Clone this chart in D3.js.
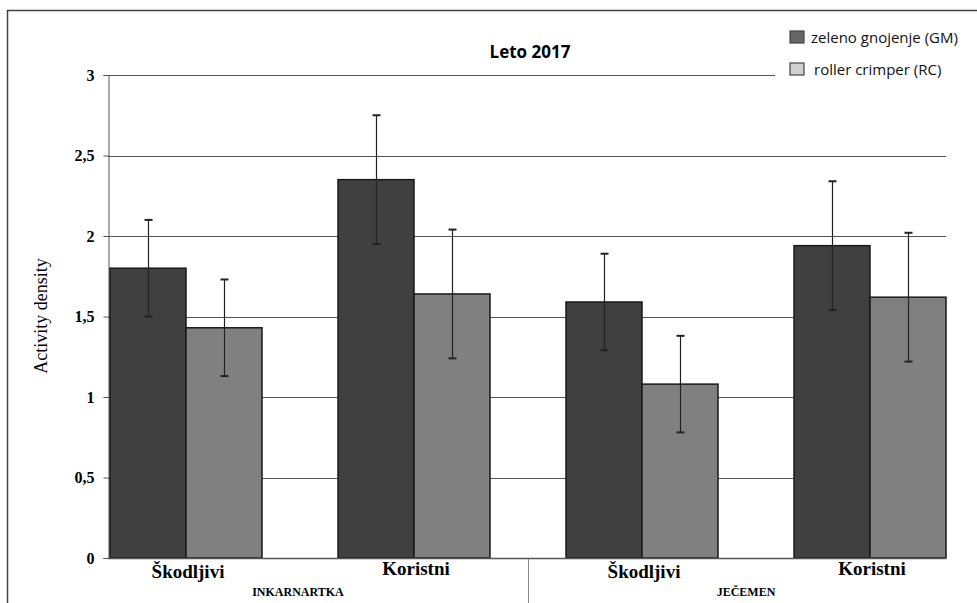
<!DOCTYPE html>
<html>
<head>
<meta charset="utf-8">
<script src="https://cdn.jsdelivr.net/npm/d3@7"></script>
<style>
  body { margin: 0; background: #fff; }
</style>
</head>
<body>
<script>
// Leto 2017 - activity density, grouped bars with error bars
var categories = ["Škodljivi I", "Koristni I", "Škodljivi J", "Koristni J"];
var catLabels = ["Škodljivi", "Koristni", "Škodljivi", "Koristni"];
var groups = ["INKARNARTKA", "JEČEMEN"];
var series = ["zeleno gnojenje (GM)", "roller crimper (RC)"];
var gmValues = [1.80, 2.35, 1.59, 1.94];
var gmErrors = [0.30, 0.40, 0.30, 0.40];
var rcValues = [1.43, 1.64, 1.08, 1.62];
var rcErrors = [0.30, 0.40, 0.30, 0.40];
var yTicks = [0, 0.5, 1, 1.5, 2, 2.5, 3];

var W = 977, H = 603;
var plotLeft = 108, plotRight = 946, plotTop = 75, plotBottom = 558;

var svg = d3.select("body").append("svg")
    .attr("width", W)
    .attr("height", H);

// outer frame (top + left visible)
svg.append("path")
    .attr("d", "M7.5," + H + " V10.5 H" + W)
    .attr("fill", "none")
    .attr("stroke", "#444")
    .attr("stroke-width", 1.5);

var y = d3.scaleLinear().domain([0, 3]).range([plotBottom, plotTop]);

// bands laid out like excel: half gap cut off at both ends
var x = d3.scaleBand()
    .domain(categories)
    .range([72, 984])
    .paddingInner(1 / 3)
    .paddingOuter(1 / 6);

var xs = d3.scaleBand().domain(series).range([0, x.bandwidth()]);

// gridlines
svg.append("g").selectAll("line")
    .data(yTicks.filter(function(d){ return d > 0; }))
    .enter().append("line")
    .attr("x1", plotLeft)
    .attr("x2", function(d){ return d === 3 ? 775 : plotRight; })
    .attr("y1", function(d){ return Math.round(y(d)) + 0.5; })
    .attr("y2", function(d){ return Math.round(y(d)) + 0.5; })
    .attr("stroke", "#555")
    .attr("stroke-width", 1);

// y axis
var yAxis = svg.append("g")
    .attr("transform", "translate(" + (plotLeft + 0.5) + ",0)")
    .call(d3.axisLeft(y).tickValues(yTicks).tickSize(5).tickPadding(9)
        .tickFormat(function(d){ return String(d).replace(".", ","); }));
yAxis.select(".domain").attr("stroke", "#555");
yAxis.selectAll(".tick line").attr("stroke", "#555");
yAxis.selectAll("text")
    .attr("font-family", "Liberation Serif, serif")
    .attr("font-weight", "bold")
    .attr("font-size", 16)
    .attr("fill", "#000");

// bars
var rows = categories.map(function(c, i){
    return [
        {cat: c, s: series[0], v: gmValues[i], e: gmErrors[i], fill: "#404040"},
        {cat: c, s: series[1], v: rcValues[i], e: rcErrors[i], fill: "#808080"}
    ];
});
var flat = [].concat.apply([], rows);

svg.append("g").selectAll("rect")
    .data(flat)
    .enter().append("rect")
    .attr("x", function(d){ return x(d.cat) + xs(d.s); })
    .attr("y", function(d){ return y(d.v); })
    .attr("width", xs.bandwidth())
    .attr("height", function(d){ return y(0) - y(d.v); })
    .attr("fill", function(d){ return d.fill; })
    .attr("stroke", "#1a1a1a")
    .attr("stroke-width", 1.5);

// error bars
var eb = svg.append("g").selectAll("g")
    .data(flat)
    .enter().append("g")
    .attr("transform", function(d){
        return "translate(" + (Math.round(x(d.cat) + xs(d.s) + xs.bandwidth() / 2) + 0.5) + ",0)";
    })
    .attr("stroke", "#222")
    .attr("stroke-width", 1.2);
eb.append("line")
    .attr("y1", function(d){ return y(d.v + d.e); })
    .attr("y2", function(d){ return y(d.v - d.e); });
eb.append("line")
    .attr("x1", -4).attr("x2", 4)
    .attr("y1", function(d){ return y(d.v + d.e); })
    .attr("y2", function(d){ return y(d.v + d.e); })
    .attr("stroke-width", 2);
eb.append("line")
    .attr("x1", -4).attr("x2", 4)
    .attr("y1", function(d){ return y(d.v - d.e); })
    .attr("y2", function(d){ return y(d.v - d.e); })
    .attr("stroke-width", 2);

// x baseline
svg.append("line")
    .attr("x1", plotLeft).attr("x2", plotRight)
    .attr("y1", plotBottom + 0.5).attr("y2", plotBottom + 0.5)
    .attr("stroke", "#555")
    .attr("stroke-width", 1.5);

// category labels
svg.append("g").selectAll("text")
    .data(categories)
    .enter().append("text")
    .attr("x", function(d){ return x(d) + x.bandwidth() / 2 + 2; })
    .attr("y", function(d, i){ return i % 2 === 0 ? 578 : 575; })
    .attr("text-anchor", "middle")
    .attr("font-family", "Liberation Serif, serif")
    .attr("font-weight", "bold")
    .attr("font-size", 19)
    .text(function(d, i){ return catLabels[i]; });

// group labels + divider
var c = categories.map(function(d){ return x(d) + x.bandwidth() / 2; });
var divX = (c[1] + c[2]) / 2;
svg.append("line")
    .attr("x1", Math.round(divX) + 0.5).attr("x2", Math.round(divX) + 0.5)
    .attr("y1", plotBottom + 1).attr("y2", H)
    .attr("stroke", "#888")
    .attr("stroke-width", 1);

svg.append("g").selectAll("text")
    .data(groups)
    .enter().append("text")
    .attr("x", function(d, i){ return i === 0 ? (c[0] + c[1]) / 2 - 2 : (c[2] + c[3]) / 2 - 10; })
    .attr("y", 596)
    .attr("text-anchor", "middle")
    .attr("font-family", "Liberation Serif, serif")
    .attr("font-weight", "bold")
    .attr("font-size", 12)
    .text(function(d){ return d; });

// y label
svg.append("text")
    .attr("transform", "translate(47," + 316 + ") rotate(-90)")
    .attr("text-anchor", "middle")
    .attr("font-family", "Liberation Serif, serif")
    .attr("font-size", 18)
    .text("Activity density");

// title
svg.append("text")
    .attr("x", 530)
    .attr("y", 58)
    .attr("text-anchor", "middle")
    .attr("font-family", "Open Sans, sans-serif")
    .attr("font-weight", "bold")
    .attr("font-size", 17)
    .text("Leto 2017");

// legend
var legendFill = ["#666", "#d0d0d0"];
var lg = svg.append("g").selectAll("g")
    .data(series)
    .enter().append("g")
    .attr("transform", function(d, i){ return "translate(790," + (31 + i * 32) + ")"; });
lg.append("rect")
    .attr("width", 14).attr("height", 12)
    .attr("fill", function(d, i){ return legendFill[i]; })
    .attr("stroke", "#444")
    .attr("stroke-width", 1.2);
lg.append("text")
    .attr("x", function(d, i){ return i === 0 ? 21 : 24; })
    .attr("y", 12)
    .attr("font-family", "Open Sans, sans-serif")
    .attr("font-size", 15)
    .attr("fill", "#111")
    .text(function(d){ return d; });
</script>
</body>
</html>
